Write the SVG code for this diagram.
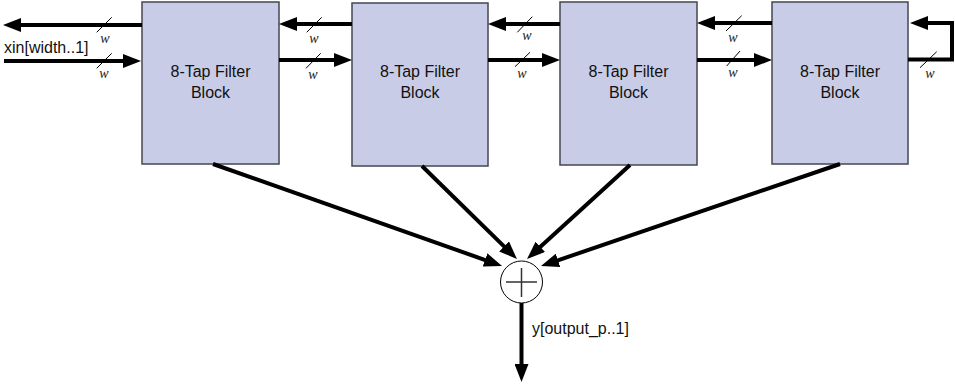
<svg xmlns="http://www.w3.org/2000/svg" width="955" height="384" viewBox="0 0 955 384">
<style>
.blk{fill:#c9cce6;stroke:#464650;stroke-width:1.5}
.lbl{font-family:"Liberation Sans",Arial,sans-serif;font-size:16px;fill:#111}
.ctr{text-anchor:middle}
.w{font-family:"Liberation Serif","DejaVu Serif",serif;font-style:italic;font-size:14px;fill:#222;text-anchor:middle}
.bus{fill:none;stroke:#000;stroke-width:4;stroke-linejoin:miter}
.sl{stroke:#000;stroke-width:1}
.ad{fill:#fff;stroke:#000;stroke-width:1}
.pl{stroke:#333;stroke-width:1.5}
</style>
<defs>
<marker id="ah" viewBox="0 0 18 14" markerWidth="18" markerHeight="14" markerUnits="userSpaceOnUse" refX="1" refY="7" orient="auto">
<path d="M0,0 L18,7 L0,14 z" fill="#000"/>
</marker>
</defs>
<g id="b1"><rect class="blk" x="142" y="2" width="137" height="162"/><text class="lbl ctr" x="210.5" y="77">8-Tap Filter</text><text class="lbl ctr" x="210.5" y="98">Block</text></g>
<g id="b2"><rect class="blk" x="352" y="3" width="136" height="163"/><text class="lbl ctr" x="420" y="77">8-Tap Filter</text><text class="lbl ctr" x="420" y="98">Block</text></g>
<g id="b3"><rect class="blk" x="560" y="2" width="137" height="163"/><text class="lbl ctr" x="628.5" y="77">8-Tap Filter</text><text class="lbl ctr" x="628.5" y="98">Block</text></g>
<g id="b4"><rect class="blk" x="772" y="2" width="136" height="162"/><text class="lbl ctr" x="840" y="77">8-Tap Filter</text><text class="lbl ctr" x="840" y="98">Block</text></g>
<g id="adder"><circle class="ad" cx="521.5" cy="282" r="21"/><line class="pl" x1="506" y1="282" x2="537" y2="282"/><line class="pl" x1="521.5" y1="268" x2="521.5" y2="297"/></g>
<g id="connectors">
<path class="bus" d="M142,25 H20" marker-end="url(#ah)"/>
<path class="bus" d="M4,61 H124" marker-end="url(#ah)"/>
<path class="bus" d="M352,24 H296" marker-end="url(#ah)"/>
<path class="bus" d="M279,60 H335" marker-end="url(#ah)"/>
<path class="bus" d="M560,24 H505" marker-end="url(#ah)"/>
<path class="bus" d="M488,60 H543" marker-end="url(#ah)"/>
<path class="bus" d="M772,23 H714" marker-end="url(#ah)"/>
<path class="bus" d="M697,60 H755" marker-end="url(#ah)"/>
<path class="bus" d="M908,59.5 H952 V23 H927" marker-end="url(#ah)"/>
<path class="bus" d="M213,164 L486,260.3" marker-end="url(#ah)"/>
<path class="bus" d="M422,166 L504.8,247.1" marker-end="url(#ah)"/>
<path class="bus" d="M630,165 L539.6,247.5" marker-end="url(#ah)"/>
<path class="bus" d="M840,164 L557.1,260.6" marker-end="url(#ah)"/>
<path class="bus" d="M521.5,303 V365" marker-end="url(#ah)"/>
<line class="sl" x1="96.7" y1="32.3" x2="111.7" y2="17.3"/>
<line class="sl" x1="96.7" y1="68.3" x2="111.7" y2="53.3"/>
<line class="sl" x1="306.7" y1="32.3" x2="321.7" y2="17.3"/>
<line class="sl" x1="306" y1="68.3" x2="320.7" y2="53.3"/>
<line class="sl" x1="517.3" y1="32.3" x2="532.3" y2="16.7"/>
<line class="sl" x1="515" y1="66.7" x2="530" y2="52.3"/>
<line class="sl" x1="726" y1="31" x2="741.7" y2="15.7"/>
<line class="sl" x1="726.7" y1="66" x2="740" y2="51"/>
<line class="sl" x1="920" y1="67.7" x2="936.7" y2="51.7"/>
<text class="w" x="105" y="43">w</text>
<text class="w" x="104" y="78">w</text>
<text class="w" x="314" y="43">w</text>
<text class="w" x="313" y="79">w</text>
<text class="w" x="527" y="40">w</text>
<text class="w" x="522" y="78">w</text>
<text class="w" x="733" y="42">w</text>
<text class="w" x="733" y="77">w</text>
<text class="w" x="930" y="78">w</text>
<text class="lbl" x="4" y="53">xin[width..1]</text>
<text class="lbl" x="532" y="333.5">y[output_p..1]</text>
</g>
</svg>
